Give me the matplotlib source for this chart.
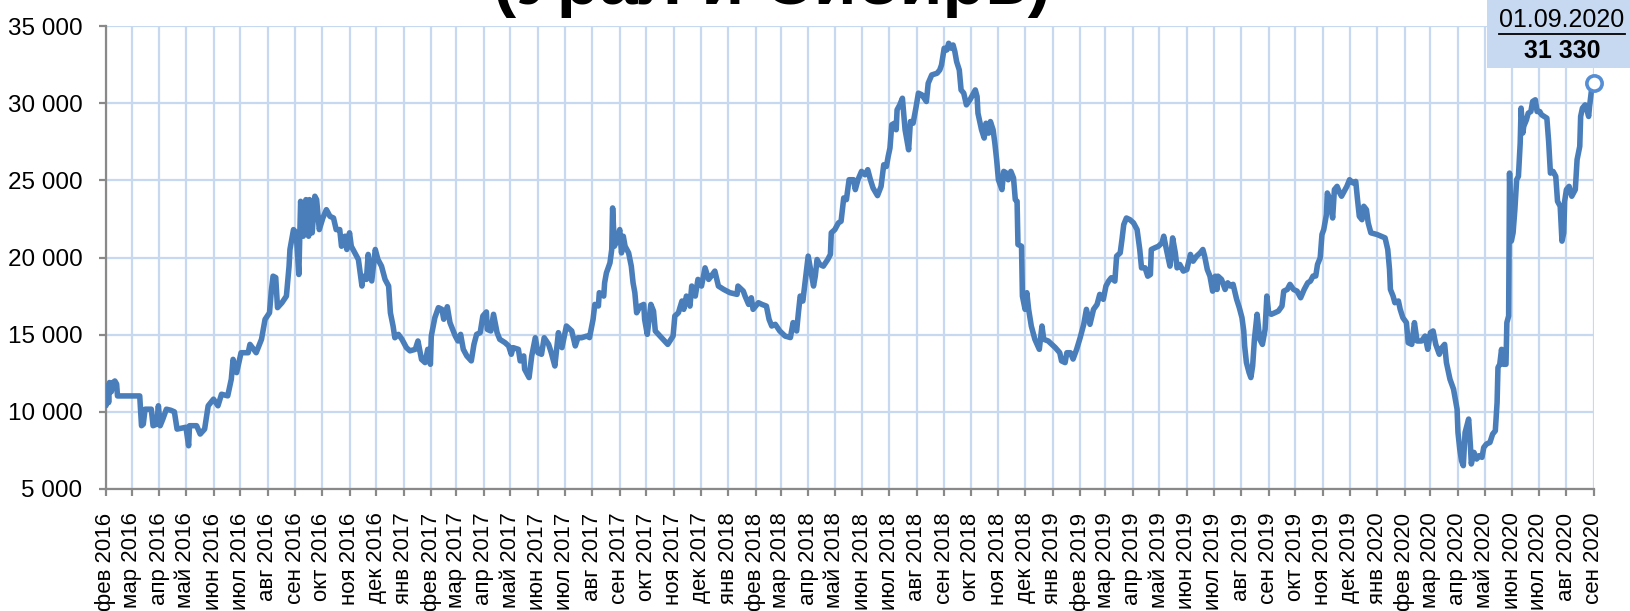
import pandas as pd
import matplotlib.pyplot as plt
import matplotlib.dates as mdates
from matplotlib.ticker import MultipleLocator, FuncFormatter
from matplotlib.patches import Rectangle
from matplotlib.lines import Line2D

plt.rcParams['font.family'] = ['Liberation Sans', 'DejaVu Sans']

#%% data: day number counted from 01.02.2016 and price, rub/t
start = pd.Timestamp('2016-02-01')
end = pd.Timestamp('2020-09-01')

day = [0, 2, 3, 4, 6, 8, 10, 12, 13, 14, 38, 40, 42, 44, 51, 53, 57, 59, 61, 64, 68, 73, 77, 80,
       90, 93, 94, 102, 106, 111, 115, 121, 126, 130, 137, 141, 143, 147, 152, 160, 162, 169,
       175, 179, 184, 186, 188, 191, 193, 198, 203, 206, 207, 211, 214, 217, 219, 222, 225, 228,
       229, 232, 235, 237, 240, 244, 248, 252, 256, 259,
       263, 265, 269, 271, 274, 276, 280, 284, 286, 288, 289, 293, 295, 299, 303, 306, 310, 314,
       318, 320, 323, 325, 329, 333, 338, 342, 348, 351, 355, 359, 362, 365, 366, 370, 374, 378,
       380, 384, 387, 393, 396, 399, 402, 406, 411, 414, 417, 421, 424, 428, 429, 433, 436, 440,
       443, 449, 453, 456, 458, 464, 466, 470, 471, 476, 479, 483, 486, 490, 493, 498, 501, 505,
       509, 513, 518, 524, 528, 531, 535, 541, 544,
       548, 550, 554, 555, 560, 561, 563, 567, 569, 570, 572, 575, 578, 580, 582, 584, 588, 591,
       593, 595, 597, 601, 605, 606, 609, 613, 616, 618, 625, 632, 638, 640, 644, 648, 650, 653,
       657, 659, 663, 666, 670, 674, 678, 681, 685, 689, 695, 702, 710, 711, 717, 719, 723, 726,
       728, 734, 738, 743, 746, 749, 753, 758, 764, 770, 773, 777, 779, 781, 784, 786, 790, 793,
       796, 798, 800, 803, 807, 812, 815, 816, 820, 824, 827, 830, 833, 836,
       841, 843, 846, 850, 854, 857, 860, 863, 868, 872, 875, 878, 880, 882, 884, 887, 889, 890,
       893, 896, 899, 903, 905, 908, 911, 914, 918, 923, 925, 929, 935, 938, 940, 943, 946, 948,
       951, 953, 955, 957, 960, 962, 965, 968, 972, 976, 978, 980, 981, 985, 988, 990, 993, 995,
       998, 1000, 1002, 1004, 1008, 1010, 1013, 1015, 1018, 1021, 1023, 1025, 1026, 1030, 1031,
       1034, 1036, 1038, 1041, 1045, 1050, 1053, 1055, 1060, 1068, 1073, 1075, 1079, 1081, 1085,
       1088, 1092, 1096, 1100, 1103, 1107,
       1111, 1115, 1118, 1122, 1125, 1128, 1131, 1135, 1137, 1141, 1143, 1145, 1148, 1152, 1156,
       1160, 1163, 1165, 1169, 1172, 1175, 1176, 1180, 1184, 1188, 1190, 1193, 1197, 1200, 1203,
       1205, 1208, 1212, 1216, 1220, 1223, 1227, 1231, 1234, 1236, 1239, 1242, 1245, 1248, 1250,
       1251, 1255, 1259, 1262, 1265, 1268, 1272, 1275, 1278, 1280, 1281, 1283, 1286, 1288, 1290,
       1292, 1295, 1298, 1301, 1304, 1306, 1308, 1311, 1315, 1319, 1323, 1325, 1329, 1332, 1336,
       1340, 1344, 1348, 1352, 1355, 1358, 1361, 1363, 1366, 1368, 1370, 1373, 1374, 1377, 1380,
       1382, 1385, 1388, 1390, 1394, 1396, 1399,
       1403, 1406, 1408, 1410, 1413, 1415, 1418, 1420, 1423, 1430, 1439, 1442, 1444, 1445, 1448,
       1450, 1454, 1456, 1459, 1463, 1465, 1469, 1472, 1475, 1480, 1484, 1487, 1490, 1493, 1496,
       1500, 1503, 1506, 1508, 1512, 1516, 1520, 1521, 1523, 1525, 1527, 1529, 1533, 1535, 1536,
       1539, 1542, 1545, 1548, 1550, 1553, 1557, 1560, 1563, 1565, 1566, 1568, 1570, 1572, 1575,
       1576, 1578, 1579, 1580, 1581, 1583, 1585, 1587, 1589, 1591, 1592, 1594, 1595, 1598, 1600,
       1603, 1605, 1608, 1610, 1613, 1615, 1621, 1623, 1625, 1628, 1631, 1633, 1636, 1638, 1640,
       1641, 1643, 1646, 1649, 1653, 1655, 1658, 1659, 1661, 1664, 1666, 1668, 1669, 1671, 1674]

price = [10400, 11700, 10600, 11900, 11300, 11900, 12000, 11800, 11030, 11030, 11030, 9100, 9200,
         10170, 10170, 9100, 9200, 10390, 9100, 9530, 10170, 10100, 10000, 8880,
         9000, 7800, 9100, 9100, 8560, 8880, 10390, 10820, 10390, 11140, 11035, 12110, 13400,
         12540, 13830, 13830, 14370, 13830,
         14700, 15990, 16420, 17820, 18790, 18700, 16750, 17070, 17500, 19440, 20520, 21810,
         21600, 18900, 23640, 21380, 23750, 21380,
         23750, 21600, 23970, 23750, 21810, 22560, 23100, 22670, 22560, 21810,
         21810, 20730, 21380, 20520, 21600, 20730, 20300, 19870, 19000, 18150, 18790, 18580,
         20200, 18480, 20520, 19870, 19440, 18580,
         18150, 16420, 15560, 14800, 15020, 14700, 14160, 13950, 14050, 14590, 13400, 13190,
         14050, 13080, 14910, 16100, 16750, 16640,
         16000, 16810, 15780, 14910, 14590, 15020, 14050, 13620, 13300, 14370, 15020, 15130,
         16210, 16470, 15340, 15240, 16320, 15130,
         14700, 14480, 14270, 13730, 14160, 14050, 13300, 13620, 12760, 12220, 13620, 14800,
         13830, 13730, 14800, 14370, 13830, 12970,
         15130, 14160, 15560, 15240, 14270, 14800, 14800, 14910, 14810,
         15990, 16960, 16860, 17720, 17500, 18360, 19000, 19650, 20520, 23210, 20730, 21160,
         21810, 20300, 21380, 20730, 20300, 19440,
         18360, 17720, 16420, 16850, 16960, 15990, 15020, 16960, 16530, 15240, 14810, 14370,
         14910, 16210, 16420, 17180, 16640, 17500,
         16850, 18150, 17500, 18580, 18150, 19330, 18580, 18800, 19120, 18150, 17930, 17720,
         17610, 18150, 17820, 17500, 16960, 17390,
         16640, 17070, 16960, 16850, 15990, 15560, 15670, 15240, 14910, 14810, 15780, 15240,
         16420, 17500, 17180, 18150, 20090, 19120,
         18150, 18800, 19870, 19550, 19440, 19870, 20200, 21600, 21810, 22240, 22350, 23860,
         23750, 25040,
         25040, 24400, 25040, 25580, 25360, 25690, 25040, 24500, 24010, 24610, 26010, 25900,
         26550, 27090, 28600, 28700, 28280, 29570,
         29890, 30320, 28280, 26980, 28810, 28700, 29630, 30650, 30540, 30110, 31290, 31830,
         31940, 32150, 32480, 33560, 33450, 33880,
         33560, 33770, 33340, 32690, 32150, 30860, 30650, 29890, 30220, 30650, 30860, 30430,
         29350, 28280, 27740, 28700, 28060, 28810,
         28280, 27410, 26340, 25040, 24400, 25580, 25470, 25040, 25580, 25150, 23750, 23640,
         20840, 20730, 17500,
         16640, 17720, 16640, 15560, 14700, 14050, 15560, 14700, 14590, 14160, 13830, 13300,
         13190, 13830, 13830,
         13420, 14050, 14810, 15670, 16640, 15670,
         16640, 16960, 17610, 17290, 18150, 18470, 18690, 18470, 20090, 20300, 21160, 22130,
         22560, 22450, 22240,
         21810, 20520, 19330, 19330, 18790, 18900, 20520, 20630, 20730, 20950, 21380, 20520,
         19440, 21270, 20300,
         19330, 19550, 19120, 19220, 20200, 19760, 20090, 20300, 20520, 20090, 19220, 18790,
         17820, 18790, 17930,
         18790, 18580, 17930, 18360, 18150, 18260, 17290, 16750, 16100, 15240, 14270, 13190,
         12540, 12220, 12970,
         14700, 16320, 14700, 14370, 15340, 17500, 16420, 16320, 16420, 16530, 16850, 17820,
         17930, 18260, 17930,
         17820, 17390, 17930, 18360, 18470, 18800, 18800, 19550, 19980, 21490, 21810, 22780,
         24180, 23750, 22560,
         24400, 24610, 24180, 23970, 24400, 24610, 25040,
         24830, 24930, 23750, 22670, 22450, 23320, 23100, 22240, 21600, 21490, 21270, 20520,
         19220, 17930, 17500,
         17070, 17180, 16640, 16100, 15780, 14480, 14370, 15780, 14590, 14590, 14910, 14050,
         15130, 15240, 14370,
         13730, 14160, 14370, 13190, 12110, 11470, 10170, 8660, 7590, 6830, 6510, 8660, 9530,
         7800, 6620,
         7370, 6940, 7160, 7050, 7690, 7910, 8020, 8560, 8770, 10600, 12870, 13080, 14050,
         13080, 13080,
         15780, 16210, 25470, 23320, 21060, 21600, 23100, 25040, 25260, 27410, 29680, 28070,
         28500, 28920, 29350,
         29460, 30110, 30220, 29460, 29460, 29250, 29030, 27520, 25470, 25580, 25260, 23640,
         23320, 21060, 21600,
         23640, 24400, 24610, 23970, 24400, 26340, 27200, 29140, 29680, 29890, 29570, 29140,
         29780, 30750, 31330]

months_ru = ['янв', 'фев', 'мар', 'апр', 'май', 'июн', 'июл', 'авг', 'сен', 'окт', 'ноя', 'дек']

dates = start + pd.to_timedelta(day, unit='D')

line_color = '#4A7EBB'
grid_color = '#C6D9F1'
axis_color = '#898989'

#%% chart
fig = plt.figure(figsize=(16.3, 6.11), dpi=100)
ax = fig.add_axes([0.0650, 0.1997, 0.9129, 0.7577])

ax.plot(dates, price, color=line_color, lw=4.0, solid_joinstyle='round',
        solid_capstyle='round', zorder=3)
ax.plot(dates[-1], price[-1], 'o', ms=11, mfc='white', mec='#558ED5', mew=2.6,
        zorder=4, clip_on=False)

ax.set_xlim(start, end)
ax.set_ylim(5000, 35000)

ax.yaxis.set_major_locator(MultipleLocator(5000))
ax.yaxis.set_major_formatter(FuncFormatter(lambda v, p: f'{int(v):,}'.replace(',', ' ')))

ax.xaxis.set_major_locator(mdates.MonthLocator())
def month_label(x, pos):
    d = mdates.num2date(x)
    return f'{months_ru[d.month - 1]} {d.year}'
ax.xaxis.set_major_formatter(FuncFormatter(month_label))

ax.grid(True, color=grid_color, lw=1.6)
ax.set_axisbelow(True)

for s in ['top', 'right']:
    ax.spines[s].set_visible(False)
for s in ['left', 'bottom']:
    ax.spines[s].set_color(axis_color)
    ax.spines[s].set_linewidth(1.6)

ax.tick_params(axis='x', rotation=90, labelsize=16, length=5, width=1.6,
               color=axis_color, pad=12)
ax.tick_params(axis='y', labelsize=17.5, length=5, width=1.6, color=axis_color, pad=12)

# title (only its lower part fits on the canvas)
fig.text(772 / 1630, 1 - 4 / 611, '(Урал и Сибирь)', ha='center', va='baseline',
         fontsize=50, weight='bold')

# last value box
fig.add_artist(Rectangle((1487 / 1630, 1 - 68 / 611), 1 - 1487 / 1630, 68 / 611,
                         transform=fig.transFigure, facecolor=grid_color,
                         edgecolor='none', zorder=5))
t_date = fig.text(1562 / 1630, 1 - 20 / 611, end.strftime('%d.%m.%Y'), ha='center',
                  va='center', fontsize=18, zorder=6)
fig.text(1562 / 1630, 1 - 51 / 611, f'{price[-1]:,}'.replace(',', ' '), ha='center',
         va='center', fontsize=18, weight='bold', zorder=6)

fig.canvas.draw()
bb = t_date.get_window_extent().transformed(fig.transFigure.inverted())
fig.add_artist(Line2D([bb.x0, bb.x1], [bb.y0 - 0.003] * 2, color='black', lw=1.3,
                      transform=fig.transFigure, zorder=6))

fig.savefig('out.png', dpi=100)
